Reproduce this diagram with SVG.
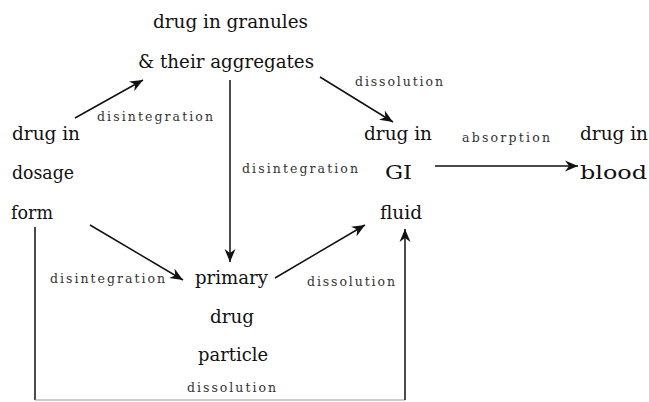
<svg xmlns="http://www.w3.org/2000/svg" width="649" height="402" viewBox="0 0 649 402">
<style>
.n{font-family:"DejaVu Serif","Liberation Serif",serif;font-size:19px;fill:#111}
.l{font-family:"DejaVu Serif","Liberation Serif",serif;font-size:12.5px;fill:#333}
.c{fill:none;stroke:#111;stroke-width:1.5}
.f{fill:none;stroke:#999;stroke-width:1.2}
</style>
<defs>
<marker id="ah" markerUnits="userSpaceOnUse" markerWidth="14" markerHeight="12" viewBox="0 0 14 12" refX="13" refY="6" orient="auto">
<path d="M0,0.5 L13,6 L0,11.5 L4,6 z" fill="#111"/>
</marker>
</defs>
<rect width="649" height="402" fill="#fff"/>
<g id="connectors">
<line class="c" x1="75" y1="118" x2="143" y2="80" marker-end="url(#ah)"/>
<line class="c" x1="320" y1="77" x2="393" y2="122" marker-end="url(#ah)"/>
<line class="c" x1="230" y1="80" x2="230" y2="262" marker-end="url(#ah)"/>
<line class="c" x1="435" y1="166" x2="578" y2="166" marker-end="url(#ah)"/>
<line class="c" x1="90" y1="225" x2="183" y2="280" marker-end="url(#ah)"/>
<line class="c" x1="275" y1="278" x2="365" y2="225" marker-end="url(#ah)"/>
<line class="c" x1="35" y1="227" x2="35" y2="400"/>
<line class="f" x1="35" y1="400" x2="405" y2="400"/>
<line class="c" x1="405" y1="400" x2="405" y2="229" marker-end="url(#ah)"/>
<text class="l" x="97" y="121" textLength="116" lengthAdjust="spacing">disintegration</text>
<text class="l" x="355" y="86" textLength="88" lengthAdjust="spacing">dissolution</text>
<text class="l" x="242" y="173" textLength="116" lengthAdjust="spacing">disintegration</text>
<text class="l" x="462" y="142" textLength="88" lengthAdjust="spacing">absorption</text>
<text class="l" x="50" y="283" textLength="115" lengthAdjust="spacing">disintegration</text>
<text class="l" x="307" y="286" textLength="88" lengthAdjust="spacing">dissolution</text>
<text class="l" x="187" y="392" textLength="89" lengthAdjust="spacing">dissolution</text>
</g>
<g id="granules">
<text class="n" x="153" y="28" textLength="155" lengthAdjust="spacingAndGlyphs">drug in granules</text>
<text class="n" x="138" y="68" textLength="176" lengthAdjust="spacingAndGlyphs">&amp; their aggregates</text>
</g>
<g id="dosage-form">
<text class="n" x="12" y="140" textLength="68" lengthAdjust="spacingAndGlyphs">drug in</text>
<text class="n" x="12" y="179" textLength="62" lengthAdjust="spacingAndGlyphs">dosage</text>
<text class="n" x="11" y="219" textLength="42" lengthAdjust="spacingAndGlyphs">form</text>
</g>
<g id="gi-fluid">
<text class="n" x="364" y="140" textLength="68" lengthAdjust="spacingAndGlyphs">drug in</text>
<text class="n" x="385" y="179" textLength="27" lengthAdjust="spacingAndGlyphs">GI</text>
<text class="n" x="380" y="219" textLength="42" lengthAdjust="spacingAndGlyphs">fluid</text>
</g>
<g id="blood">
<text class="n" x="580" y="140" textLength="68" lengthAdjust="spacingAndGlyphs">drug in</text>
<text class="n" x="580" y="179" textLength="67" lengthAdjust="spacingAndGlyphs">blood</text>
</g>
<g id="primary-particle">
<text class="n" x="195" y="284" textLength="73" lengthAdjust="spacingAndGlyphs">primary</text>
<text class="n" x="210" y="323" textLength="44" lengthAdjust="spacingAndGlyphs">drug</text>
<text class="n" x="198" y="361" textLength="70" lengthAdjust="spacingAndGlyphs">particle</text>
</g>
</svg>
